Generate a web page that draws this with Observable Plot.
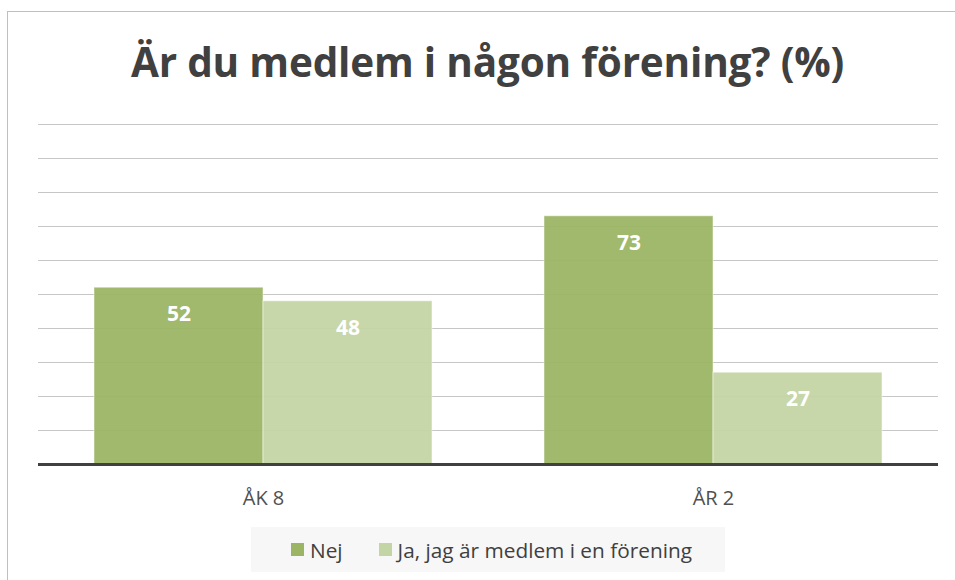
<!DOCTYPE html>
<html>
<head>
<meta charset="utf-8">
<script src="https://cdn.jsdelivr.net/npm/d3@7"></script>
<script src="https://cdn.jsdelivr.net/npm/@observablehq/plot@0.6"></script>
<style>
  html, body { margin: 0; padding: 0; background: #fff; }
  #wrap { position: relative; width: 955px; height: 580px; overflow: hidden; font-family: "Open Sans", sans-serif; }
  #frame { position: absolute; left: 7px; top: 11px; width: 980px; height: 600px; border: 1px solid #bfbfbf; }
  #title { position: absolute; left: 0; top: 32px; width: 975px; text-align: center; font-size: 40.5px; font-weight: bold; color: #404040; line-height: 60px; letter-spacing: -0.2px; }
  #chart { position: absolute; left: 0; top: 110px; }
  #legend { position: absolute; left: 251px; top: 527px; width: 474px; height: 45px; background: #f7f7f7; display: flex; align-items: center; font-size: 20.8px; color: #404040; }
  .sw { display: inline-block; width: 13px; height: 13px; margin-right: 6px; }
</style>
</head>
<body>
<div id="wrap">
  <div id="frame"></div>
  <div id="title">Är du medlem i någon förening? (%)</div>
  <div id="chart"></div>
  <div id="legend"></div>
</div>
<script>
const groups = ["ÅK 8", "ÅR 2"];
const series = ["Nej", "Ja, jag är medlem i en förening"];
const nejValues = [52, 73];
const jaValues = [48, 27];
const colors = ["#9bb565", "#c4d5a5"];
const gridTicks = [10, 20, 30, 40, 50, 60, 70, 80, 90, 100];

const data = [];
groups.forEach((g, i) => {
  data.push({group: g, series: series[0], value: nejValues[i]});
  data.push({group: g, series: series[1], value: jaValues[i]});
});

const chart = Plot.plot({
  width: 955,
  height: 420,
  marginTop: 14,
  marginBottom: 66,
  marginLeft: 37,
  marginRight: 17,
  style: {fontFamily: "Open Sans, sans-serif", fontSize: "19px", color: "#595959", background: "transparent"},
  fx: {domain: groups, padding: 0, label: null, axis: null},
  x: {domain: series, axis: null, paddingInner: 0, paddingOuter: 0.331},
  y: {domain: [0, 100], axis: null},
  color: {domain: series, range: colors},
  marks: [
    Plot.ruleY(gridTicks, {stroke: "#c6c6c6", strokeWidth: 1}),
    Plot.barY(data, {fx: "group", x: "series", y: "value", fill: "series", fillOpacity: 0.95, stroke: "#ffffff", strokeOpacity: 0.5, strokeWidth: 1}),
    Plot.text(data, {fx: "group", x: "series", y: "value", text: d => String(d.value), dy: 27, fill: "white", fontWeight: "bold", fontSize: 21}),
    Plot.ruleY([0], {stroke: "#404040", strokeWidth: 3}),
    Plot.axisFx({anchor: "bottom", tickSize: 0, tickPadding: 26, fontSize: 20, label: null, fill: "#505050"})
  ]
});
document.getElementById("chart").appendChild(chart);

const legend = document.getElementById("legend");
series.forEach((s, i) => {
  const item = document.createElement("span");
  item.style.display = "inline-flex";
  item.style.alignItems = "center";
  item.style.marginLeft = i === 0 ? "40px" : "36px";
  const sw = document.createElement("span");
  sw.className = "sw";
  sw.style.background = colors[i];
  item.appendChild(sw);
  item.appendChild(document.createTextNode(s));
  legend.appendChild(item);
});
</script>
</body>
</html>
